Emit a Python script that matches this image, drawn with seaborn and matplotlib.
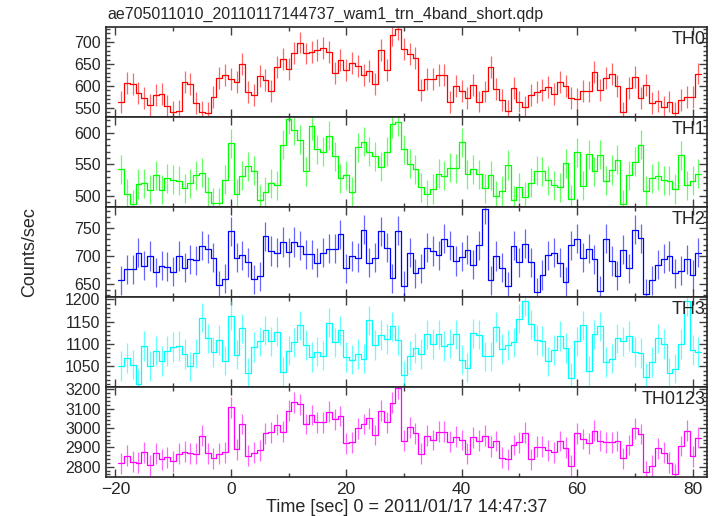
import numpy as np
import pandas as pd
import seaborn as sns
import matplotlib
matplotlib.use("Agg")
import matplotlib.pyplot as plt
from matplotlib.ticker import MultipleLocator

# 1 s bins, centres from -19 to 81 s
time_sec = list(range(-19, 82))

th0 = [562, 606, 605, 583, 572, 556, 578, 582, 554, 541,
       543, 609, 604, 560, 541, 537, 574, 618, 625, 615,
       609, 650, 585, 579, 623, 614, 589, 643, 662, 639,
       675, 699, 674, 678, 682, 686, 677, 629, 659, 637,
       652, 646, 625, 633, 605, 682, 637, 716, 731,
       685, 673, 663, 591, 615, 615, 625, 625, 563, 599,
       589, 572, 602, 564, 587, 643, 592, 568, 543, 595,
       564, 552, 579, 585, 591, 597, 582, 608, 600, 572,
       569, 589, 587, 632, 591, 618, 627, 600, 539, 595,
       620, 572, 602, 560, 566, 551, 564, 537, 568, 574,
       574, 628]

th1 = [542, 504, 487, 519, 520, 510, 533, 510, 528, 526,
       524, 512, 520, 533, 537, 507, 489, 489, 526, 583,
       504, 532, 547, 540, 494, 507, 520, 517, 581, 621,
       604, 589, 539, 611, 574, 570, 595, 563, 528, 533,
       507, 577, 586, 570, 563, 546, 570, 614, 617, 574,
       551, 542, 514, 503, 511, 535, 532, 545, 544, 585,
       534, 542, 534, 512, 533, 500, 508, 549, 493, 514,
       499, 521, 540, 539, 525, 517, 514, 552, 495, 569,
       516, 566, 539, 565, 524, 541, 557, 487, 533, 554,
       581, 508, 528, 532, 525, 524, 511, 564, 517, 524,
       535]

th2 = [657, 676, 676, 706, 683, 700, 671, 683, 681, 672,
       700, 679, 694, 692, 718, 713, 697, 648, 659, 744,
       697, 701, 689, 658, 664, 735, 709, 706, 725, 707,
       725, 718, 703, 703, 688, 706, 713, 713, 739, 678,
       700, 697, 747, 688, 697, 744, 715, 660, 745, 647,
       706, 669, 678, 715, 709, 701, 731, 718, 691, 699,
       711, 684, 719, 784, 657, 700, 679, 646, 718, 689,
       722, 689, 635, 666, 701, 706, 688, 654, 719, 731,
       697, 713, 694, 638, 731, 691, 665, 711, 678, 747,
       732, 632, 657, 684, 695, 700, 669, 674, 694, 666,
       706]

th3 = [1051, 1069, 1054, 1010, 1096, 1051, 1085, 1062, 1084, 1093,
       1096, 1078, 1050, 1079, 1159, 1113, 1082, 1109, 1063, 1164,
       1076, 1135, 1035, 1093, 1106, 1131, 1106, 1128, 1037, 1085,
       1104, 1142, 1098, 1071, 1083, 1074, 1148, 1104, 1131, 1071,
       1065, 1078, 1067, 1153, 1098, 1120, 1111, 1140, 1109, 1030,
       1074, 1091, 1078, 1122, 1100, 1122, 1096, 1101, 1122, 1065,
       1047, 1124, 1121, 1072, 1072, 1138, 1089, 1098, 1104, 1157,
       1197, 1144, 1109, 1107, 1061, 1087, 1118, 1091, 1024, 1106,
       1142, 1039, 1122, 1140, 1060, 1067, 1113, 1106, 1118, 1082,
       1080, 1025, 1060, 1113, 1100, 1035, 1045, 1100, 1197, 1087,
       1082]

th0123 = [2817, 2857, 2826, 2821, 2874, 2807, 2869, 2838, 2848, 2829,
          2866, 2878, 2869, 2866, 2959, 2869, 2843, 2866, 2874, 3107,
          2890, 3021, 2857, 2872, 2886, 2972, 2978, 3016, 2981, 3090,
          3133, 3122, 3021, 3067, 3029, 3029, 3085, 3045, 3062, 2921,
          2926, 2998, 3021, 3050, 2964, 3090, 3029, 3131, 3205, 2935,
          3003, 2972, 2866, 2959, 2938, 2981, 2981, 2929, 2955, 2938,
          2866, 2952, 2935, 2959, 2904, 2933, 2847, 2838, 2912, 2926,
          2976, 2838, 2904, 2904, 2886, 2874, 2933, 2898, 2805, 2972,
          2943, 2921, 2986, 2935, 2926, 2926, 2933, 2843, 2912, 2998,
          2969, 2774, 2804, 2895, 2872, 2821, 2760, 2907, 2986, 2855,
          2950]

band_names = ["TH0", "TH1", "TH2", "TH3", "TH0123"]
band_rates = [th0, th1, th2, th3, th0123]
# half length of the error bars
band_errors = [25, 23, 26, 33, 54]
band_colors = ["#ff0000", "#00ff00", "#0000ff", "#00ffff", "#ff00ff"]

y_limits = [(529, 735), (483, 625), (627, 788), (1004, 1206), (2748, 3213)]
y_major = [50, 50, 50, 50, 100]
y_minor = [10, 10, 10, 10, 20]

sns.set_style("ticks")
plt.rcParams["font.family"] = ["Liberation Sans", "DejaVu Sans"]
plt.rcParams["font.size"] = 13

fig, axes = plt.subplots(5, 1, sharex=True, figsize=(7.17, 5.16), dpi=100)
fig.subplots_adjust(left=0.148, right=0.986, top=0.948, bottom=0.076, hspace=0)

edges = np.arange(time_sec[0] - 0.5, time_sec[-1] + 1.0, 1.0)

for ax, name, rates, err, color, ylim, ymaj, ymin in zip(
        axes, band_names, band_rates, band_errors, band_colors,
        y_limits, y_major, y_minor):
    steps = pd.DataFrame({"t": edges, "rate": rates + [rates[-1]]})
    sns.lineplot(data=steps, x="t", y="rate", drawstyle="steps-post",
                 color=color, lw=0.9, ax=ax)
    ax.errorbar(time_sec, rates, yerr=err, fmt="none", ecolor=color,
                elinewidth=0.9, capsize=0, alpha=0.6)
    ax.set_ylim(*ylim)
    ax.yaxis.set_major_locator(MultipleLocator(ymaj))
    ax.yaxis.set_minor_locator(MultipleLocator(ymin))
    ax.set_ylabel("")
    ax.set_xlabel("")
    ax.text(0.997, 0.95, name, transform=ax.transAxes, ha="right", va="top",
            fontsize=13)
    ax.tick_params(which="both", direction="in", top=True, right=True,
                   color="0.25", labelsize=11.5, pad=4)
    ax.tick_params(which="major", length=6, width=1)
    ax.tick_params(which="minor", length=3, width=1)
    for sp in ax.spines.values():
        sp.set_linewidth(1.2)
        sp.set_color("0.15")

axes[-1].set_xlim(-21.6, 82.5)
axes[-1].xaxis.set_major_locator(MultipleLocator(20))
axes[-1].xaxis.set_minor_locator(MultipleLocator(10))
axes[-1].tick_params(axis="x", labelsize=12.5)
axes[-1].set_xlabel("Time [sec] 0 = 2011/01/17 14:47:37", fontsize=13, labelpad=1)

fig.text(0.042, 0.512, "Counts/sec", rotation=90, ha="center", va="center",
         fontsize=13)
fig.text(0.150, 0.972, "ae705011010_20110117144737_wam1_trn_4band_short.qdp",
         ha="left", va="center", fontsize=11.5)

fig.savefig("out.png", dpi=100)
